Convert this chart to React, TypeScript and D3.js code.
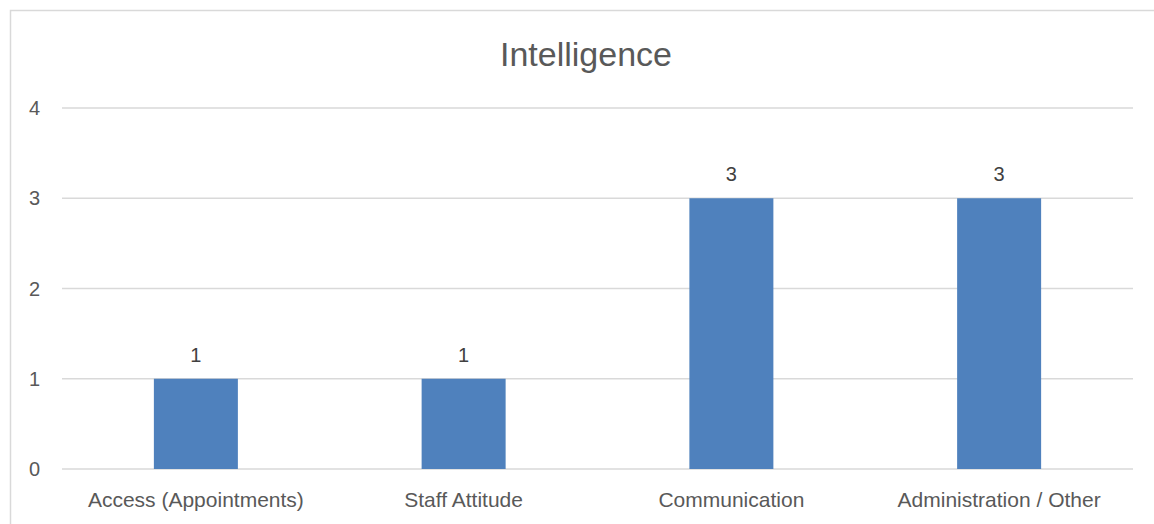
import React from "react";
import * as d3 from "d3";

const title = "Intelligence";
const categories = ["Access (Appointments)", "Staff Attitude", "Communication", "Administration / Other"];
const values = [1, 1, 3, 3];
const yTicks = [0, 1, 2, 3, 4];

const W = 1154;
const H = 524;
const FONT = "'Liberation Sans', Arial, sans-serif";
const TEXT = "#595959";

export default function App() {
  const plotLeft = 62;
  const plotRight = 1133;
  const x = d3.scaleBand<string>().domain(categories).range([plotLeft, plotRight]);
  const y = d3.scaleLinear().domain([0, 4]).range([469, 108]);
  const barW = 84;
  const center = (c: string) => (x(c) as number) + x.bandwidth() / 2;

  return (
    <svg width={W} height={H} style={{ position: "fixed", left: 0, top: 0, background: "#fff" }} fontFamily={FONT}>
      <rect x={10.5} y={10.5} width={W + 10} height={H + 10} fill="#fff" stroke="#d9d9d9" strokeWidth={1.5} />
      <text x={586} y={66} textAnchor="middle" fontSize={34} fill={TEXT}>{title}</text>
      {yTicks.map((t) => (
        <g key={t}>
          <line x1={plotLeft} x2={plotRight} y1={y(t)} y2={y(t)} stroke="#d9d9d9" strokeWidth={1.3} />
          <text x={40} y={y(t) + 7} textAnchor="end" fontSize={20} fill={TEXT}>{t}</text>
        </g>
      ))}
      {categories.map((c, i) => (
        <g key={c}>
          <rect x={center(c) - barW / 2} y={y(values[i])} width={barW} height={y(0) - y(values[i])} fill="#4f81bd" />
          <text x={center(c)} y={y(values[i]) - 17} textAnchor="middle" fontSize={20} fill="#404040">{values[i]}</text>
          <text x={center(c)} y={507} textAnchor="middle" fontSize={21} fill={TEXT}>{c}</text>
        </g>
      ))}
    </svg>
  );
}
